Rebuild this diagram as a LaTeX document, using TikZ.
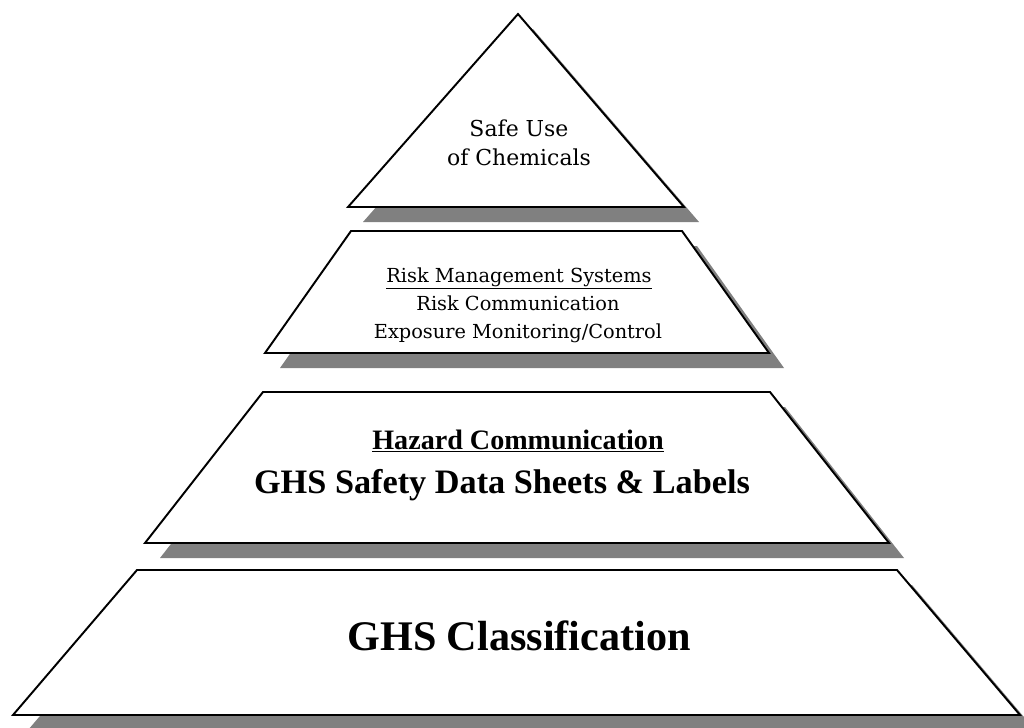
\documentclass[tikz,border=0pt]{standalone}
\usepackage{fontspec}
\setmainfont{Liberation Serif}
\newfontfamily\slabfont{DejaVu Serif}
\usepackage{tikz}
\usetikzlibrary{positioning}

\begin{document}
\begin{tikzpicture}[x=0.02cm, y=-0.02cm,
    tier/.style={draw=black, line width=1.1pt, fill=white, line join=miter},
    shadowfill/.style={fill=gray, shift={(15,15)}},
    toptext/.style={font=\slabfont\fontsize{12.5}{15}\selectfont, anchor=base},
    midtext/.style={font=\slabfont\fontsize{11}{13}\selectfont, anchor=base},
    lowtext/.style={font=\bfseries\fontsize{19.5}{23}\selectfont, anchor=base}]
    \useasboundingbox (0,0) rectangle (1024,727);
    \clip (0,0) rectangle (1024,727);
    % shadows
    \fill[shadowfill] (518,14) -- (684,207) -- (348,207) -- cycle;
    \fill[shadowfill] (351,231) -- (682,231) -- (769,353) -- (265,353) -- cycle;
    \fill[shadowfill] (263,392) -- (770,392) -- (889,543) -- (145,543) -- cycle;
    \fill[shadowfill] (137,570) -- (897,570) -- (1020,715) -- (13,715) -- cycle;
    % tiers
    \draw[tier] (518,14) -- (684,207) -- (348,207) -- cycle;
    \draw[tier] (351,231) -- (682,231) -- (769,353) -- (265,353) -- cycle;
    \draw[tier] (263,392) -- (770,392) -- (889,543) -- (145,543) -- cycle;
    \draw[tier] (137,570) -- (897,570) -- (1020,715) -- (13,715) -- cycle;
    % labels
    \node[toptext] (safeuse) at (519,136) {Safe Use};
    \node[toptext] (chemicals) at (519,165) {of Chemicals};
    \node[midtext] (riskmgmt) at (519,282) {\underline{Risk Management Systems}};
    \node[midtext] (riskcomm) at (518,310) {Risk Communication};
    \node[midtext] (exposure) at (518,338) {Exposure Monitoring/Control};
    \node[lowtext, font=\bfseries\fontsize{16}{19}\selectfont] (hazcom) at (518,449) {\underline{Hazard Communication}};
    \node[lowtext] (sdslabels) at (502,493) {GHS Safety Data Sheets \& Labels};
    \node[lowtext, font=\bfseries\fontsize{24}{28}\selectfont] (ghsclass) at (519,650) {GHS Classification};
\end{tikzpicture}
\end{document}
